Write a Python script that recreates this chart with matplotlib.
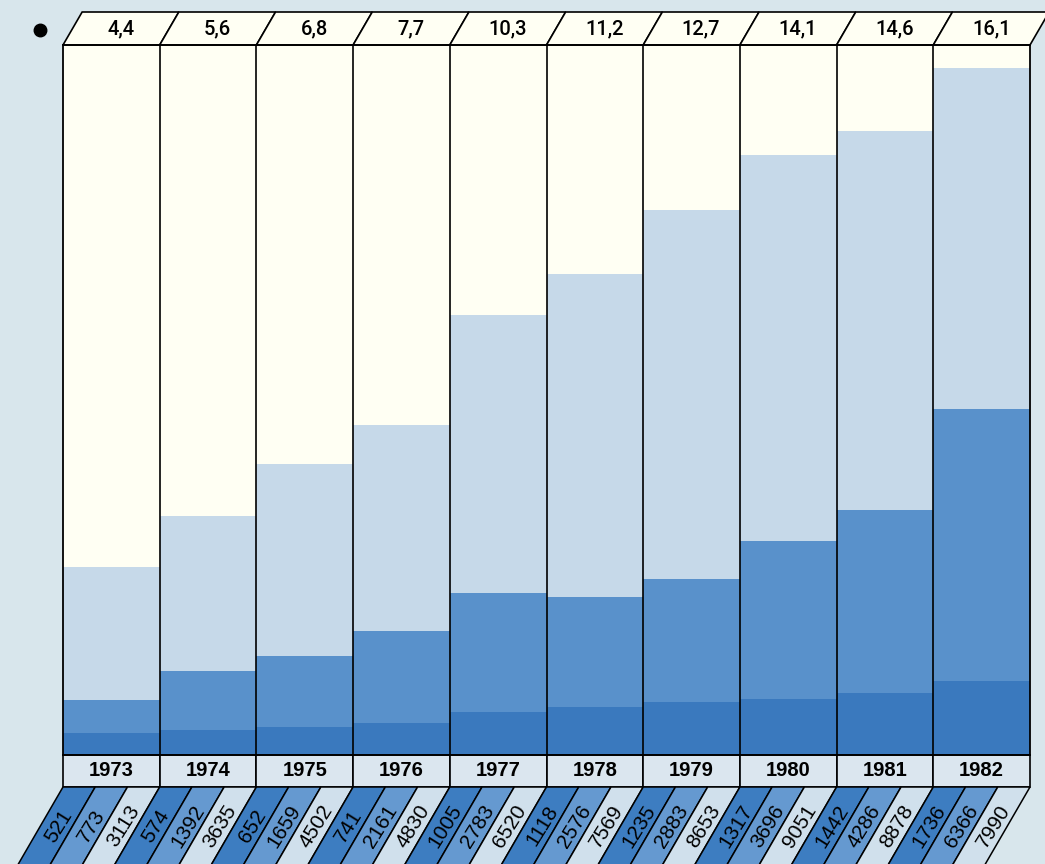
import matplotlib
matplotlib.use('Agg')
import matplotlib.pyplot as plt
from matplotlib.patches import Polygon
from matplotlib.transforms import ScaledTranslation
import numpy as np

plt.rcParams['font.family'] = ['Liberation Sans', 'DejaVu Sans']

years = ['1973', '1974', '1975', '1976', '1977', '1978', '1979', '1980', '1981', '1982']
seg1 = [521, 574, 652, 741, 1005, 1118, 1235, 1317, 1442, 1736]
seg2 = [773, 1392, 1659, 2161, 2783, 2576, 2883, 3696, 4286, 6366]
seg3 = [3113, 3635, 4502, 4830, 6520, 7569, 8653, 9051, 8878, 7990]
totals = ['4,4', '5,6', '6,8', '7,7', '10,3', '11,2', '12,7', '14,1', '14,6', '16,1']

bg = '#d8e6ec'
cream = '#fffff3'
dark = '#3a79be'
mid = '#5991cb'
light = '#c6d9e9'
strip_cols = ['#3d7dc1', '#6599d0', '#d0e0ec']

fig = plt.figure(figsize=(10.45, 8.64), dpi=100, facecolor=bg)
ax = fig.add_axes([63/1045, 109/864, 967/1045, 710/864])
ax.set_facecolor(cream)

x = np.arange(len(years))
b1 = np.array(seg1)
b2 = b1 + np.array(seg2)
ax.bar(x, seg1, width=1, color=dark, linewidth=0)
ax.bar(x, seg2, width=1, bottom=b1, color=mid, linewidth=0)
ax.bar(x, seg3, width=1, bottom=b2, color=light, linewidth=0)
ax.set_xlim(-0.5, len(years) - 0.5)
ax.set_ylim(0, 16630)
ax.set_xticks([])
ax.set_yticks([])
for s in ax.spines.values():
    s.set_linewidth(1.3)
for b in x[1:] - 0.5:
    ax.axvline(b, color='black', lw=1.2)

# x in columns, y in axes fraction
tr = ax.get_xaxis_transform()
ax_h = 710.0
col_px = 96.7
slope = 0.58 * ax_h / col_px   # columns per axes-fraction

# header (top faces)
hh = 33 / ax_h
for i, t in enumerate(totals):
    x0 = i - 0.5
    poly = [(x0, 1), (x0 + 1, 1), (x0 + 1 + slope*hh, 1 + hh), (x0 + slope*hh, 1 + hh)]
    ax.add_patch(Polygon(poly, closed=True, facecolor=cream, edgecolor='black',
                         lw=1.2, transform=tr, clip_on=False))
    ax.text(i + slope*hh/2, 1 + hh/2, t, transform=tr, ha='center', va='center',
            fontsize=14.5, family=['Roboto', 'DejaVu Sans'], fontweight='medium',
            clip_on=False)

ax.plot([-0.738], [1.021], 'o', color='black', markersize=9, transform=tr, clip_on=False)

# year boxes
yb = -32 / ax_h
for i, yr in enumerate(years):
    ax.add_patch(Polygon([(i - 0.5, 0), (i + 0.5, 0), (i + 0.5, yb), (i - 0.5, yb)],
                         closed=True, facecolor='#dbe6ef', edgecolor='black', lw=1.2,
                         transform=tr, clip_on=False))
    ax.text(i, yb/2, yr, transform=tr, ha='center', va='center', fontsize=14.5,
            fontweight='bold', clip_on=False)

# slanted value strips
fs = 15
rot = 58
half = fs * 0.716 / 2
shift = ScaledTranslation(half * np.sin(np.radians(rot)) / 72,
                          -half * np.cos(np.radians(rot)) / 72, fig.dpi_scale_trans)
ybot = -0.22
ytxt = -(825 - 755) / ax_h
for i in range(len(years)):
    vals = [seg1[i], seg2[i], seg3[i]]
    for k, v in enumerate(vals):
        x0 = i - 0.5 + k / 3
        x1 = x0 + 1 / 3
        d = slope * (yb - ybot)
        ax.add_patch(Polygon([(x0, yb), (x1, yb), (x1 - d, ybot), (x0 - d, ybot)],
                             closed=True, facecolor=strip_cols[k], edgecolor='black',
                             lw=1.1, transform=tr, clip_on=False))
        xc = (x0 + x1) / 2 - slope * (yb - ytxt)
        ax.text(xc, ytxt, str(v), transform=tr + shift, ha='center', va='baseline',
                rotation=rot, rotation_mode='anchor', fontsize=fs, clip_on=False)

fig.savefig('out.png', dpi=100, facecolor=bg)
